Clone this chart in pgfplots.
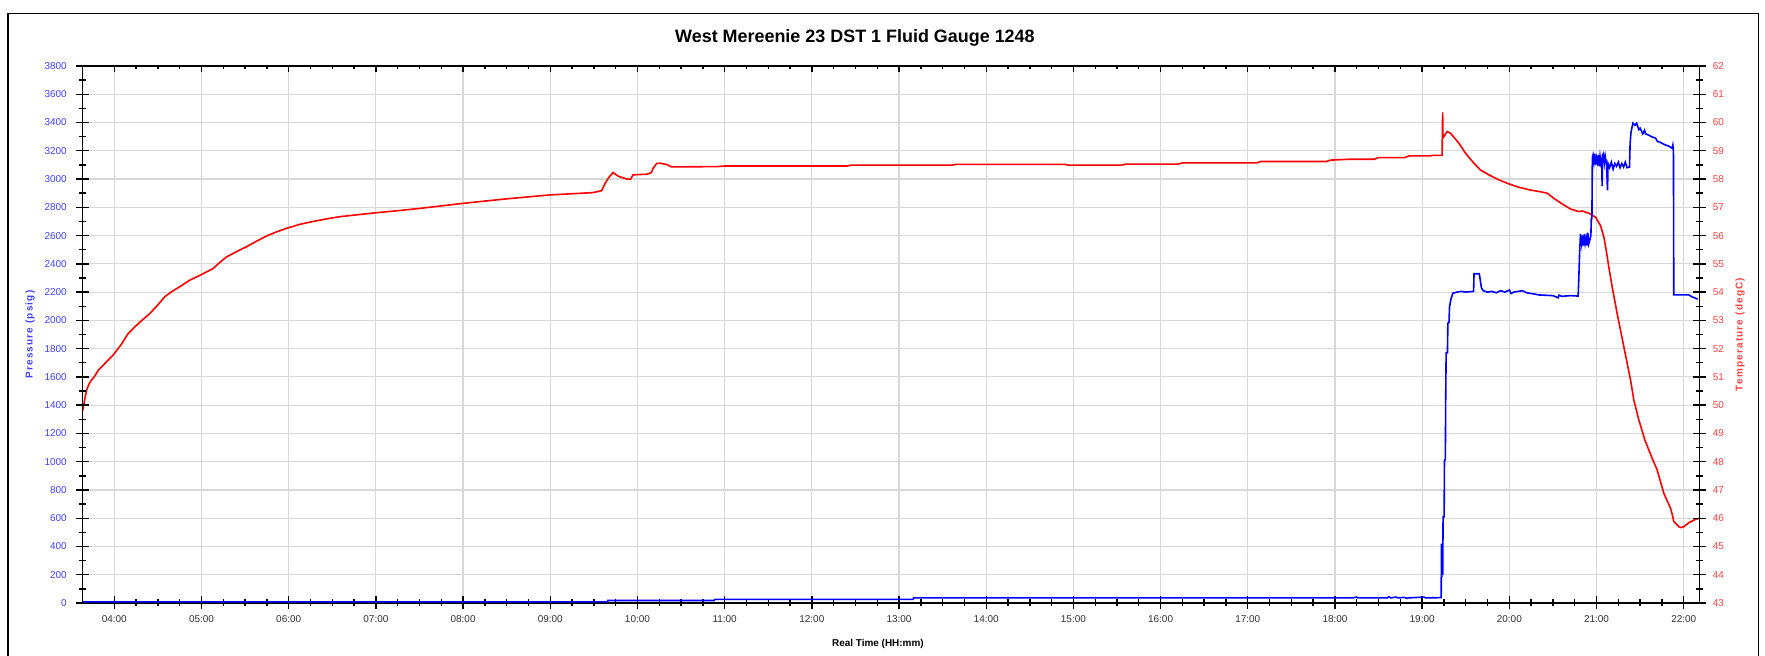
\documentclass[border=0pt]{standalone}
\usepackage{fontspec}
\setmainfont{Liberation Sans}
\usepackage{pgfplots}
\pgfplotsset{compat=1.18}
\definecolor{pblue}{RGB}{0,0,255}
\definecolor{tred}{RGB}{255,0,0}
\definecolor{plabel}{RGB}{64,64,255}
\definecolor{tlabel}{RGB}{255,64,64}
\definecolor{gridc}{RGB}{216,216,216}
\definecolor{xlab}{RGB}{50,50,50}
\pgfplotsset{
  base/.style={scale only axis, width=1617bp, height=537bp,
    at={(82.67bp,53bp)}, anchor=south west,
    xmin=3.637, xmax=22.183, xtick={4,...,22}, minor x tick num=3,
    axis line style={line width=1.4bp, black},
    every tick/.style={line width=1.4bp, black},
    ticklabel style={font=\fontsize{10}{12}\selectfont},
  },
}
\begin{document}
\begin{tikzpicture}
\useasboundingbox[fill=white] (0,0) rectangle (1765bp,656bp);
\draw[line width=1.4bp, black] (8bp,-10bp) -- (8bp,642.7bp) -- (1758.3bp,642.7bp) -- (1758.3bp,-10bp);
% Axis A: grid, top ticks, temperature data
\begin{axis}[base, ymin=43, ymax=62, ytick={43,...,62},
  grid=major, major grid style={line width=1.2bp, gridc},
  tick align=inside, major tick length=6.5bp, minor tick length=3.5bp,
  xticklabels={}, yticklabels={}]
\addplot[tred, line width=1.6bp] coordinates {
(3.637,49.80) (3.66,50.2) (3.683,50.54) (3.71,50.75) (3.74,50.89) (3.78,51.05)
(3.817,51.24) (3.90,51.50) (3.989,51.78) (4.08,52.15) (4.16,52.54) (4.28,52.90)
(4.41,53.25) (4.50,53.55) (4.58,53.84) (4.66,54.02) (4.75,54.19) (4.87,54.43)
(5.00,54.62) (5.135,54.84) (5.21,55.05) (5.29,55.25) (5.40,55.43) (5.52,55.61)
(5.63,55.80) (5.75,55.99) (5.86,56.13) (5.98,56.26) (6.13,56.40) (6.28,56.50)
(6.45,56.60) (6.59,56.67) (6.80,56.74) (7.01,56.81) (7.25,56.88) (7.50,56.96)
(7.75,57.05) (8.00,57.14) (8.25,57.22) (8.50,57.30) (8.75,57.37) (9.00,57.44)
(9.25,57.48) (9.49,57.52) (9.59,57.59) (9.63,57.85) (9.67,58.05) (9.72,58.23)
(9.78,58.10) (9.88,58.00) (9.92,57.99) (9.95,58.15) (10.11,58.17) (10.16,58.23)
(10.18,58.38) (10.22,58.55) (10.26,58.56) (10.34,58.51) (10.39,58.43) (10.91,58.44)
(11.0,58.46) (12.4,58.46) (12.45,58.49) (13.6,58.49) (13.65,58.52) (14.9,58.52)
(14.95,58.49) (15.55,58.49) (15.6,58.53) (16.2,58.53) (16.25,58.57) (17.1,58.57)
(17.15,58.62) (17.9,58.62) (17.95,58.67) (18.16,58.70) (18.45,58.70) (18.50,58.76)
(18.80,58.76) (18.85,58.82) (19.10,58.82) (19.11,58.84) (19.229,58.84) (19.232,59.7)
(19.235,60.36) (19.238,59.6) (19.248,59.5) (19.287,59.68) (19.326,59.62) (19.421,59.27)
(19.498,58.91) (19.593,58.56) (19.670,58.32) (19.765,58.15) (19.880,57.97) (19.994,57.83)
(20.109,57.71) (20.243,57.61) (20.358,57.55) (20.434,57.50) (20.510,57.32) (20.606,57.12)
(20.702,56.94) (20.797,56.85) (20.835,56.87) (20.912,56.79) (20.989,56.65) (21.046,56.35)
(21.084,55.95) (21.11,55.5) (21.14,54.9) (21.179,54.19) (21.236,53.25) (21.313,52.07)
(21.39,50.89) (21.428,50.18) (21.485,49.48) (21.554,48.77) (21.638,48.12) (21.695,47.71)
(21.772,46.88) (21.849,46.35) (21.875,46.05) (21.886,45.88) (21.944,45.70) (21.97,45.67)
(22.00,45.70) (22.058,45.84) (22.135,45.96) (22.183,46.0)
};
\end{axis}
% Axis B: pressure
\begin{axis}[base, ymin=0, ymax=3800, ytick={0,200,...,3800}, minor y tick num=1,
  axis x line*=bottom, axis y line*=left,
  tick align=center, major tick length=13bp, minor tick length=7bp,
  xticklabels={04:00,05:00,06:00,07:00,08:00,09:00,10:00,11:00,12:00,13:00,14:00,15:00,16:00,17:00,18:00,19:00,20:00,21:00,22:00},
  yticklabels={0,200,400,600,800,1000,1200,1400,1600,1800,2000,2200,2400,2600,2800,3000,3200,3400,3600,3800},
  xticklabel style={text=xlab, anchor=base, inner sep=0pt, yshift=-13.5bp},
  yticklabel style={text=plabel, anchor=east, inner sep=0pt, xshift=-9.2bp},
  title={West Mereenie 23 DST 1 Fluid Gauge 1248},
  title style={at={(axis description cs:0.4776,1.0335)}, anchor=base, inner sep=0pt, font=\bfseries\fontsize{18}{20}\selectfont},
  xlabel={Real Time (HH:mm)},
  xlabel style={at={(axis description cs:0.4918,-0.0801)}, anchor=base, inner sep=0pt, font=\bfseries\fontsize{10}{12}\selectfont},
  ylabel={Pressure (psig)},
  ylabel style={at={(axis description cs:-0.03257,0.5)}, anchor=center, inner sep=0pt, text=plabel, font=\bfseries\fontsize{10}{12}\selectfont\addfontfeature{LetterSpace=12}},
]
\addplot[pblue, line width=1.6bp] coordinates {
(3.637,8) (9.655,8) (9.66,18) (10.88,18) (10.89,26) (13.16,26) (13.17,36)
(18.20,36) (18.25,42) (18.26,36) (18.60,36) (18.62,44) (18.64,36) (18.70,42) (18.72,36)
(18.80,40) (18.82,33) (18.84,36) (19.02,42) (19.04,36) (19.218,38)
(19.222,420) (19.226,180) (19.230,400) (19.236,200) (19.240,610) (19.252,610)
(19.256,1010) (19.266,1015) (19.270,1440) (19.275,1770) (19.290,1770) (19.295,1980)
(19.308,1985) (19.314,2097) (19.33,2150) (19.352,2192) (19.40,2200) (19.45,2205)
(19.50,2200) (19.59,2205) (19.595,2330) (19.655,2330) (19.665,2290) (19.68,2230)
(19.70,2210) (19.75,2200) (19.80,2205) (19.85,2195) (19.90,2210) (19.95,2200)
(20.00,2215) (20.02,2190) (20.05,2200) (20.10,2205) (20.15,2210) (20.20,2195)
(20.25,2190) (20.30,2185) (20.338,2180) (20.40,2178) (20.50,2175) (20.56,2160)
(20.57,2178) (20.60,2170) (20.70,2175) (20.789,2172) (20.797,2300) (20.806,2480)
(20.816,2610) (20.83,2540) (20.84,2600) (20.85,2530) (20.86,2610) (20.87,2545)
(20.88,2580) (20.89,2530) (20.90,2620) (20.91,2540) (20.92,2560) (20.935,2600)
(20.94,2720) (20.947,2720) (20.952,3150) (20.96,3170) (20.97,3120) (20.98,3180)
(20.99,3100) (21.00,3150) (21.01,3120) (21.02,3170) (21.03,3090) (21.04,3160)
(21.05,3110) (21.06,3140) (21.064,2950) (21.068,3140) (21.08,3170) (21.09,3110)
(21.10,3160) (21.115,3100) (21.126,2920) (21.132,3110) (21.15,3080) (21.17,3120)
(21.19,3070) (21.21,3110) (21.23,3090) (21.25,3120) (21.27,3080) (21.29,3110)
(21.31,3085) (21.33,3120) (21.35,3080) (21.378,3085) (21.385,3250) (21.395,3330)
(21.417,3395) (21.44,3380) (21.46,3395) (21.485,3350) (21.50,3360) (21.53,3320)
(21.55,3345) (21.562,3320) (21.60,3310) (21.63,3300) (21.677,3290) (21.70,3265)
(21.73,3260) (21.76,3250) (21.791,3241) (21.82,3235) (21.85,3225) (21.867,3217)
(21.875,3240) (21.882,3200) (21.886,2180) (21.95,2180) (22.058,2180) (22.10,2165)
(22.135,2157) (22.16,2150)
};
\end{axis}
% Axis C: temperature scale on the right
\begin{axis}[base, ymin=43, ymax=62, ytick={43,...,62}, minor y tick num=1,
  axis x line=none, axis y line*=right,
  tick align=center, major tick length=13bp, minor tick length=7bp,
  yticklabels={43,44,45,46,47,48,49,50,51,52,53,54,55,56,57,58,59,60,61,62},
  yticklabel style={text=tlabel, anchor=west, inner sep=0pt, xshift=6.5bp},
  ylabel={Temperature (degC)},
  ylabel style={at={(axis description cs:1.0249,0.5)}, anchor=center, inner sep=0pt, rotate=0, text=tlabel, font=\bfseries\fontsize{10}{12}\selectfont\addfontfeature{LetterSpace=12}},
]
\end{axis}
\end{tikzpicture}
\end{document}
